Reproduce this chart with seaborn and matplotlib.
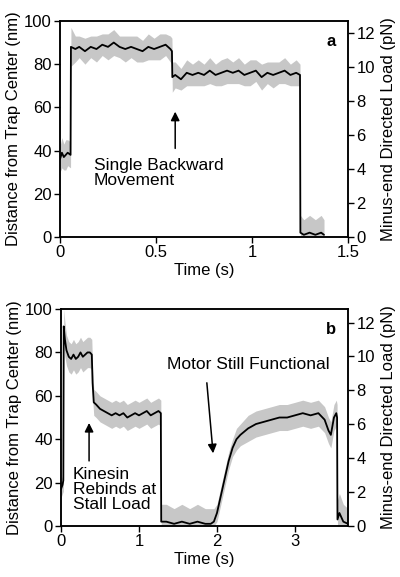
import matplotlib
matplotlib.use("Agg")
import matplotlib.pyplot as plt
import numpy as np
import seaborn as sns

# panel a: time (s), mean position (nm), half-width of the grey noise (nm)
a_time = [0.000, 0.010, 0.020, 0.030, 0.040, 0.055, 0.057, 0.080, 0.100, 0.130,
          0.160, 0.190, 0.220, 0.250, 0.280, 0.310, 0.340, 0.370, 0.400, 0.430,
          0.460, 0.490, 0.520, 0.550, 0.575, 0.583, 0.585, 0.600, 0.630, 0.660,
          0.690, 0.720, 0.750, 0.780, 0.810, 0.840, 0.870, 0.900, 0.930, 0.960,
          0.990, 1.020, 1.050, 1.080, 1.110, 1.140, 1.170, 1.200, 1.230, 1.250,
          1.252, 1.270, 1.300, 1.330, 1.360, 1.375]
a_nm = [36, 39, 37, 38, 39, 38, 88, 87, 88, 86,
        88, 87, 89, 88, 90, 88, 87, 88, 87, 86,
        88, 87, 88, 89, 87, 86, 74, 75, 73, 76,
        75, 76, 75, 77, 75, 76, 77, 76, 77, 75,
        76, 77, 74, 76, 75, 76, 77, 75, 76, 75,
        2, 1, 2, 1, 2, 1]
a_noise = [6, 7, 6, 7, 6, 6, 9, 6, 5, 6,
           5, 6, 5, 6, 6, 5, 6, 5, 6, 5,
           6, 5, 6, 5, 6, 6, 7, 6, 5, 6,
           5, 6, 5, 6, 5, 6, 6, 5, 6, 5,
           6, 5, 6, 5, 6, 5, 6, 5, 6, 5,
           8, 7, 8, 7, 8, 7]

# panel b
b_time = [0.000, 0.020, 0.030, 0.035, 0.050, 0.070, 0.100, 0.130, 0.160, 0.190,
          0.220, 0.250, 0.280, 0.310, 0.340, 0.370, 0.395, 0.405, 0.420, 0.450,
          0.500, 0.550, 0.600, 0.650, 0.700, 0.750, 0.800, 0.850, 0.900, 0.950,
          1.000, 1.050, 1.100, 1.150, 1.200, 1.250, 1.280, 1.285, 1.350, 1.450,
          1.550, 1.650, 1.750, 1.850, 1.920, 1.960, 2.000, 2.050, 2.100, 2.150,
          2.200, 2.250, 2.300, 2.400, 2.500, 2.600, 2.700, 2.800, 2.900, 3.000,
          3.100, 3.200, 3.300, 3.380, 3.430, 3.460, 3.500, 3.530, 3.540, 3.545,
          3.570, 3.620, 3.680]
b_nm = [17, 19, 21, 92, 86, 81, 78, 77, 79, 77,
        78, 80, 78, 79, 80, 80, 79, 66, 57, 56,
        54, 53, 52, 51, 52, 51, 52, 50, 51, 52,
        51, 52, 53, 51, 52, 53, 52, 2, 2, 1,
        2, 1, 2, 1, 1, 2, 6, 14, 22, 30,
        36, 40, 42, 45, 47, 48, 49, 50, 50, 51,
        52, 51, 52, 49, 44, 42, 50, 52, 50, 3,
        6, 2, 1]
b_noise = [4, 4, 5, 8, 8, 7, 7, 7, 7, 7,
           7, 7, 7, 7, 7, 7, 7, 7, 6, 6,
           6, 6, 6, 6, 6, 6, 6, 6, 6, 6,
           6, 6, 6, 6, 6, 6, 6, 8, 8, 7,
           8, 7, 8, 7, 7, 6, 4, 4, 4, 4,
           4, 5, 5, 6, 6, 6, 6, 6, 6, 6,
           6, 6, 6, 6, 6, 6, 6, 6, 6, 9,
           9, 8, 7]

a_xticks = [0, 0.5, 1, 1.5]
a_xticklabels = ["0", "0.5", "1", "1.5"]
b_xticks = [0, 1, 2, 3]
b_xticklabels = ["0", "1", "2", "3"]
nm_ticks = [0, 20, 40, 60, 80, 100]
pn_ticks = [0, 2, 4, 6, 8, 10, 12]

sns.set_style("ticks")
plt.rcParams['font.family'] = ['Liberation Sans', 'DejaVu Sans']
plt.rcParams['font.size'] = 12
plt.rcParams['axes.linewidth'] = 1.1
plt.rcParams['xtick.major.width'] = 1.0
plt.rcParams['ytick.major.width'] = 1.0
plt.rcParams['xtick.major.size'] = 4
plt.rcParams['ytick.major.size'] = 4
for key in ['text.color', 'axes.labelcolor', 'axes.edgecolor',
            'xtick.color', 'ytick.color']:
    plt.rcParams[key] = 'black'

fig = plt.figure(figsize=(4.0, 5.77), dpi=100)
ax_a = fig.add_axes([0.150, 0.5893, 0.720, 0.3744])
ax_b = fig.add_axes([0.1525, 0.0884, 0.7175, 0.3760])


def draw_trace(ax, t, nm, noise, xmax, pn_top, xticks, xticklabels, letter):
    t = np.array(t)
    nm = np.array(nm, dtype=float)
    noise = np.array(noise, dtype=float)
    low = np.clip(nm - noise, 0, None)
    high = nm + noise
    ax.fill_between(t, low, high, color='0.78', lw=0)
    sns.lineplot(x=t, y=nm, color='k', lw=1.3, ax=ax, sort=False, estimator=None)
    ax.set_xlim(0, xmax)
    ax.set_ylim(0, 100)
    ax.set_xticks(xticks)
    ax.set_xticklabels(xticklabels)
    ax.set_yticks(nm_ticks)
    ax.set_xlabel("Time (s)", labelpad=2)
    ax.set_ylabel("Distance from Trap Center (nm)", labelpad=2)
    ax.tick_params(labelsize=12, pad=2)
    ax2 = ax.twinx()
    ax2.set_ylim(0, pn_top)
    ax2.set_yticks(pn_ticks)
    ax2.set_ylabel("Minus-end Directed Load (pN)", labelpad=4)
    ax2.tick_params(labelsize=12, pad=2)
    ax.text(0.94, 0.905, letter, transform=ax.transAxes, ha='center', va='center',
            fontsize=12, fontweight='bold')
    return ax2


draw_trace(ax_a, a_time, a_nm, a_noise, 1.5, 12.7, a_xticks, a_xticklabels, "a")
draw_trace(ax_b, b_time, b_nm, b_noise, 3.68, 12.8, b_xticks, b_xticklabels, "b")

arrow = dict(arrowstyle='-|>', color='k', lw=1.1, mutation_scale=13,
             shrinkA=0, shrinkB=0)

ax_a.annotate("", xy=(0.60, 58), xytext=(0.60, 41), arrowprops=arrow)
ax_a.text(0.177, 36.5, "Single Backward\nMovement", ha='left', va='top',
          fontsize=12.5, linespacing=1.0)

ax_b.annotate("", xy=(0.36, 47.5), xytext=(0.36, 30), arrowprops=arrow)
ax_b.text(0.155, 27, "Kinesin\nRebinds at\nStall Load", ha='left', va='top',
          fontsize=12.5, linespacing=1.0,
          bbox=dict(facecolor='white', edgecolor='none', pad=0.5))
ax_b.annotate("", xy=(1.95, 33.5), xytext=(1.87, 66), arrowprops=arrow)
ax_b.text(1.36, 74.5, "Motor Still Functional", ha='left', va='center',
          fontsize=12.5)

fig.savefig("out.png", dpi=100)
